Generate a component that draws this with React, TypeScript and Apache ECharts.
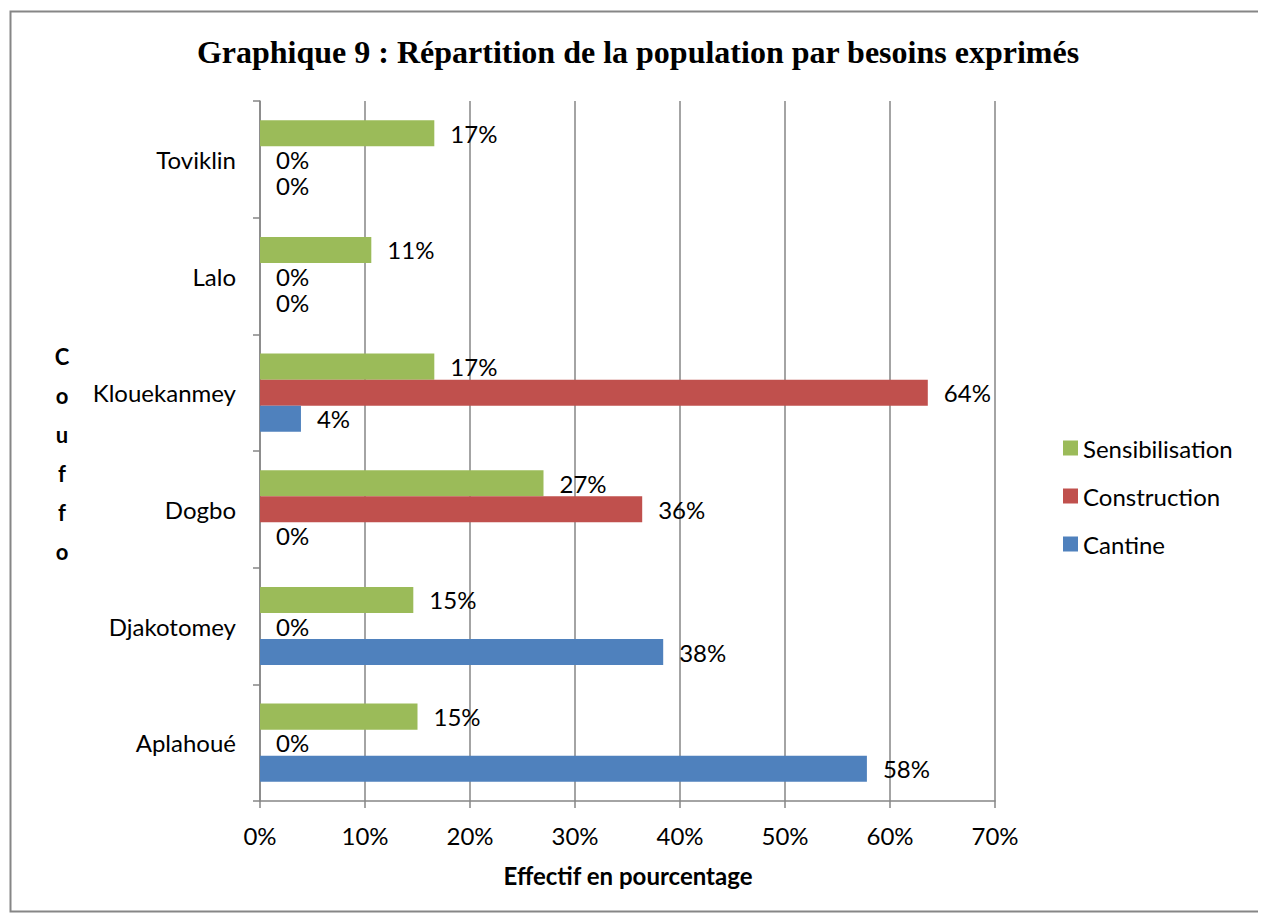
import React, { useEffect, useRef } from "react";
import * as echarts from "echarts";

const categories = ["Aplahoué", "Djakotomey", "Dogbo", "Klouekanmey", "Lalo", "Toviklin"];
const cantine = [57.8, 38.4, 0, 3.9, 0, 0];
const construction = [0, 0, 36.4, 63.6, 0, 0];
const sensibilisation = [15.0, 14.6, 27.0, 16.6, 10.6, 16.6];
const xTicks = [0, 10, 20, 30, 40, 50, 60, 70];
const titleText = "Graphique 9 : Répartition de la population par besoins exprimés";
const yTitle = "Couffo";
const xTitle = "Effectif en pourcentage";

const FONT = "Lato, 'Open Sans', sans-serif";

export default function App() {
  const ref = useRef<HTMLDivElement>(null);
  useEffect(() => {
    if (!ref.current) return;
    const chart = echarts.init(ref.current, null, { renderer: "svg" });
    const label = {
      show: true,
      position: "right",
      distance: 16,
      color: "#000",
      fontFamily: FONT,
      fontSize: 24,
      lineHeight: 20,
      formatter: (p: any) => Math.round(p.value) + "%",
    };
    const mk = (name: string, data: number[], color: string) => ({
      name,
      type: "bar",
      data,
      barGap: "0%",
      barCategoryGap: "33%",
      itemStyle: { color },
      label,
    });
    chart.setOption({
      animation: false,
      backgroundColor: "#fff",
      title: {
        text: titleText,
        left: 625,
        top: 23,
        textAlign: "center",
        textStyle: {
          fontFamily: "'Liberation Serif', 'Times New Roman', serif",
          fontWeight: "bold",
          fontSize: 32,
          color: "#000",
        },
      },
      graphic: [
        {
          type: "rect",
          shape: { x: 2.5, y: 3.5, width: 1253, height: 900 },
          style: { fill: "none", stroke: "#868686", lineWidth: 2 },
          silent: true,
        },
        {
          type: "text",
          x: 54,
          y: 329,
          style: {
            text: yTitle.split("").join("\n"),
            fontFamily: FONT,
            fontWeight: "bold",
            fontSize: 22,
            lineHeight: 39,
            fill: "#000",
            align: "center",
          },
        },
        {
          type: "text",
          x: 620,
          y: 855,
          style: {
            text: xTitle,
            fontFamily: FONT,
            fontWeight: "bold",
            fontSize: 24,
            fill: "#000",
            align: "center",
          },
        },
      ],
      legend: {
        orient: "vertical",
        left: 1050,
        top: 423,
        itemWidth: 15,
        itemHeight: 15,
        itemGap: 24,
        icon: "rect",
        data: ["Sensibilisation", "Construction", "Cantine"],
        textStyle: { fontFamily: FONT, fontSize: 24, lineHeight: 24, color: "#000" },
      },
      grid: { left: 252, top: 93, width: 735, height: 700, containLabel: false },
      xAxis: {
        type: "value",
        min: 0,
        max: 70,
        interval: 10,
        axisLine: { show: true, lineStyle: { color: "#868686", width: 1.5 } },
        axisTick: { show: true, length: 7, lineStyle: { color: "#868686", width: 1.5 } },
        splitLine: { show: true, lineStyle: { color: "#868686", width: 1.5 } },
        axisLabel: {
          margin: 22,
          fontFamily: FONT,
          fontSize: 24,
          color: "#000",
          formatter: (v: number) => (xTicks.includes(v) ? v + "%" : ""),
        },
      },
      yAxis: {
        type: "category",
        data: categories,
        axisLine: { show: true, lineStyle: { color: "#868686", width: 1.5 } },
        axisTick: { show: true, length: 7, lineStyle: { color: "#868686", width: 1.5 } },
        axisLabel: { margin: 24, fontFamily: FONT, fontSize: 24, color: "#000" },
      },
      series: [
        mk("Sensibilisation", sensibilisation, "#9BBB59"),
        mk("Construction", construction, "#C0504D"),
        mk("Cantine", cantine, "#4F81BD"),
      ],
    });
    return () => chart.dispose();
  }, []);
  return <div ref={ref} style={{ width: 1258, height: 908 }} />;
}
